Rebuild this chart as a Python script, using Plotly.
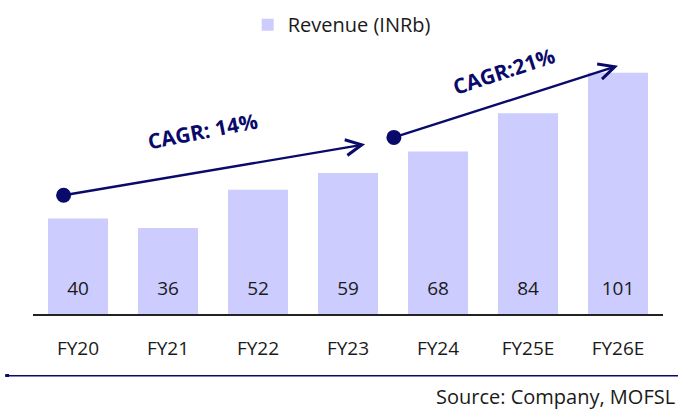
import plotly.graph_objects as go

years = ['FY20', 'FY21', 'FY22', 'FY23', 'FY24', 'FY25E', 'FY26E']
revenue = [40, 36, 52, 59, 68, 84, 101]
series_name = 'Revenue (INRb)'
cagr_labels = ['CAGR: 14%', 'CAGR:21%']
source_note = 'Source: Company, MOFSL'

bar_color = '#CCCCFF'
navy = '#0A0A6B'
text_color = '#1A1A1A'
font_family = 'Open Sans, Lato, sans-serif'

positions = list(range(len(years)))

fig = go.Figure()
fig.add_trace(go.Bar(
    x=positions,
    y=revenue,
    name=series_name,
    marker={'color': bar_color, 'line': {'width': 0}},
    width=0.667,
    hoverinfo='skip',
))
# value labels sit low inside each bar
label_y = 10
fig.add_trace(go.Scatter(
    x=positions,
    y=[label_y] * len(revenue),
    mode='text',
    text=[str(v) for v in revenue],
    textfont={'size': 19, 'color': text_color, 'family': font_family},
    showlegend=False,
    hoverinfo='skip',
))

# CAGR arrows (x as category index, y in data units)
arrows = [
    {'start': (-0.16, 49.7), 'end': (3.19, 71.0), 'text_at': (1.38, 76.4), 'angle': -11},
    {'start': (3.51, 73.9), 'end': (6.0, 103.9), 'text_at': (4.73, 101.5), 'angle': -18},
]
for arr, label in zip(arrows, cagr_labels):
    (x0, y0), (x1, y1) = arr['start'], arr['end']
    fig.add_annotation(
        x=x1, y=y1, ax=x0, ay=y0, xref='x', yref='y', axref='x', ayref='y',
        showarrow=True, arrowhead=5, arrowsize=1.3, arrowwidth=2.4,
        arrowcolor=navy, text='', standoff=0, startstandoff=0,
    )
    fig.add_trace(go.Scatter(
        x=[x0], y=[y0], mode='markers', showlegend=False, hoverinfo='skip',
        marker={'size': 15, 'color': navy},
    ))
    tx, ty = arr['text_at']
    fig.add_annotation(
        x=tx, y=ty, xref='x', yref='y', showarrow=False, text='<b>' + label + '</b>',
        textangle=arr['angle'], font={'size': 21, 'color': navy, 'family': font_family},
    )

# bottom rule and source
fig.add_shape(type='line', xref='paper', yref='paper', x0=-0.044, x1=1.03, y0=-0.204, y1=-0.204,
              line={'color': navy, 'width': 1.5})
fig.add_shape(type='rect', xref='paper', yref='paper', x0=-0.044, x1=-0.038, y0=-0.198, y1=-0.208,
              line={'width': 0}, fillcolor=navy)
fig.add_annotation(
    x=1.022, y=-0.272, xref='paper', yref='paper', xanchor='right', yanchor='middle',
    showarrow=False, text=source_note, font={'size': 20, 'color': text_color, 'family': font_family},
)

fig.update_layout(
    width=678, height=412,
    margin={'l': 33, 'r': 15, 't': 5, 'b': 98},
    paper_bgcolor='white', plot_bgcolor='white',
    font={'family': font_family, 'size': 18, 'color': text_color},
    legend={'orientation': 'h', 'x': 0.49, 'xanchor': 'center', 'y': 0.955, 'yanchor': 'middle',
            'font': {'size': 20}, 'itemwidth': 30, 'bgcolor': 'rgba(0,0,0,0)'},
    xaxis={'range': [-0.5, 6.5], 'showline': True, 'linecolor': '#222222', 'linewidth': 2,
           'showgrid': False, 'zeroline': False, 'ticks': '', 'ticklabelstandoff': 16,
           'tickvals': positions, 'ticktext': years, 'tickfont': {'size': 19},
           'automargin': False},
    yaxis={'range': [0, 126.8], 'visible': False, 'showgrid': False, 'automargin': False},
)

# drop the default page margin so the figure sits at the window's corner
fig.write_html('out.html', config={'displayModeBar': False},
               post_script="document.body.style.margin='0';")
